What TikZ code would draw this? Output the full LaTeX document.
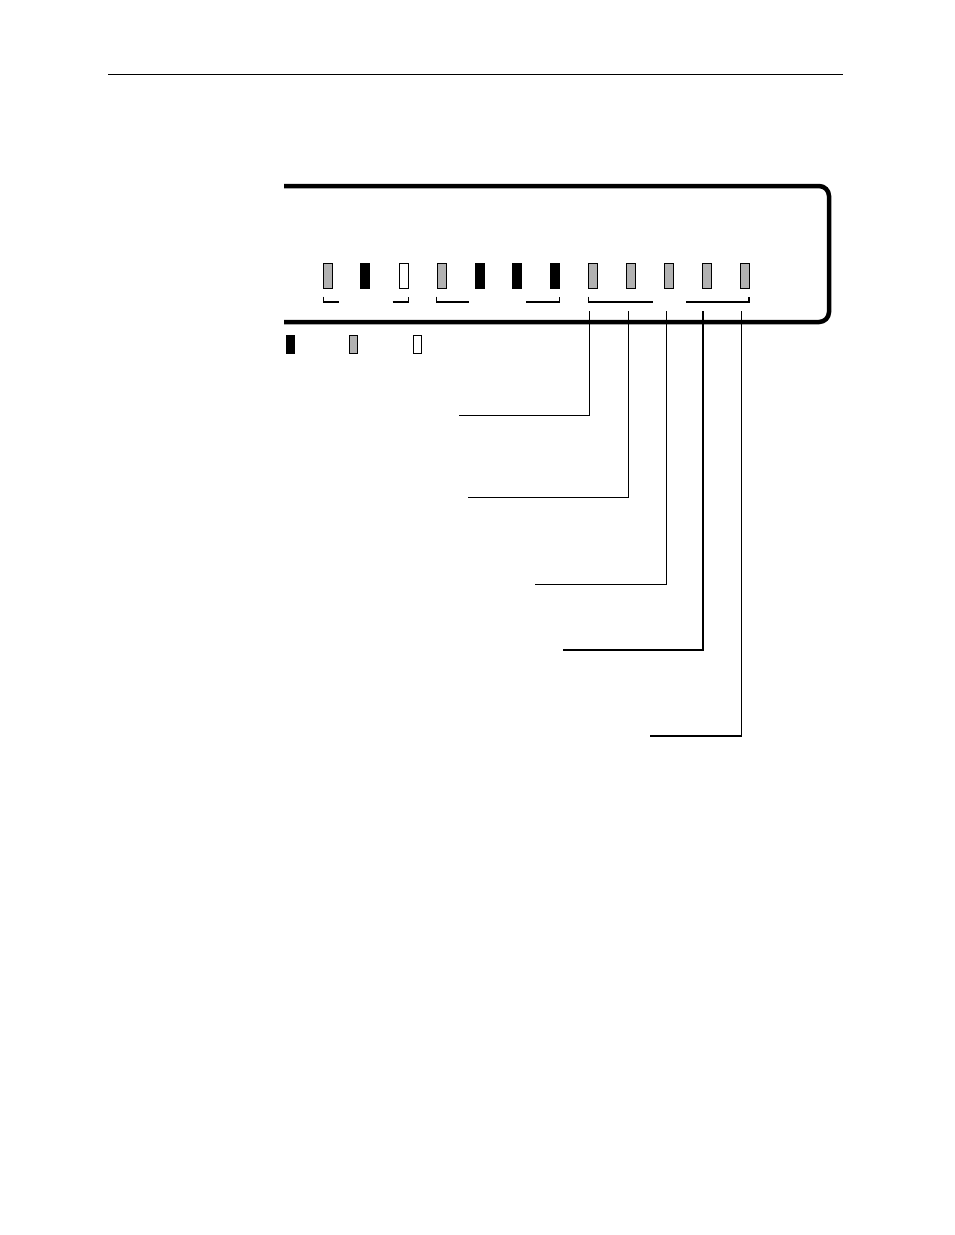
\documentclass[tikz,border=0pt]{standalone}
\begin{document}
\begin{tikzpicture}[x=1pt,y=-1pt,
  led/.style={draw=black,line width=1pt,minimum width=9pt,minimum height=25pt,inner sep=0pt},
  ledg/.style={led,fill=black!30},
  ledb/.style={led,fill=black},
  ledw/.style={led,fill=white},
  leg/.style={draw=black,line width=1pt,minimum width=8pt,minimum height=18pt,inner sep=0pt},
  panel/.style={line width=4.5pt,rounded corners=10pt},
  brk/.style={line width=1.6pt},
  lead/.style={line width=1.2pt},
  leadthin/.style={line width=0.9pt}]
\useasboundingbox (0,0) rectangle (954,1235);
% top rule
\draw[line width=1pt] (108,74) -- (843,74);
% panel
\draw[panel] (284,186) -- (829,186) -- (829,322) -- (284,322);
% LEDs
\node[ledg] (l1) at (327.7,276) {};
\node[ledb] (l2) at (365.3,276) {};
\node[ledw] (l3) at (403.7,276) {};
\node[ledg] (l4) at (441.5,276) {};
\node[ledb] (l5) at (479.5,276) {};
\node[ledb] (l6) at (517,276) {};
\node[ledb] (l7) at (555,276) {};
\node[ledg] (l8) at (593,276) {};
\node[ledg] (l9) at (631,276) {};
\node[ledg] (l10) at (669,276) {};
\node[ledg] (l11) at (707,276) {};
\node[ledg] (l12) at (745,276) {};
% brackets
\draw[brk] (323.5,296.5) -- (323.5,302) -- (339,302);
\draw[brk] (392.5,302) -- (408.5,302) -- (408.5,296.5);
\draw[brk] (436.5,296.5) -- (436.5,302) -- (469,302);
\draw[brk] (526,302) -- (559.5,302) -- (559.5,296.5);
\draw[brk] (588.5,296.5) -- (588.5,302) -- (652.5,302);
\draw[brk] (686,302) -- (749,302) -- (749,296.5);
% legend
\node[leg,fill=black] (k1) at (290.5,344.5) {};
\node[leg,fill=black!30] (k2) at (353.5,344.5) {};
\node[leg,fill=white] (k3) at (417,344.5) {};
% leaders
\coordinate (t1) at (589.7,311);
\coordinate (t2) at (628.5,311);
\coordinate (t3) at (666.5,311);
\coordinate (t4) at (703,311);
\coordinate (t5) at (741.3,311);
\coordinate (e1) at (459,415.7);
\coordinate (e2) at (467.7,497.7);
\coordinate (e3) at (535,584.3);
\coordinate (e4) at (563.3,650);
\coordinate (e5) at (650.3,736);
\draw[lead] (t1) |- (e1);
\draw[lead] (t2) |- (e2);
\draw[leadthin] (t3) |- (e3);
\draw[lead] (t4) |- (e4);
\draw[lead] (t5) |- (e5);
\end{tikzpicture}
\end{document}
